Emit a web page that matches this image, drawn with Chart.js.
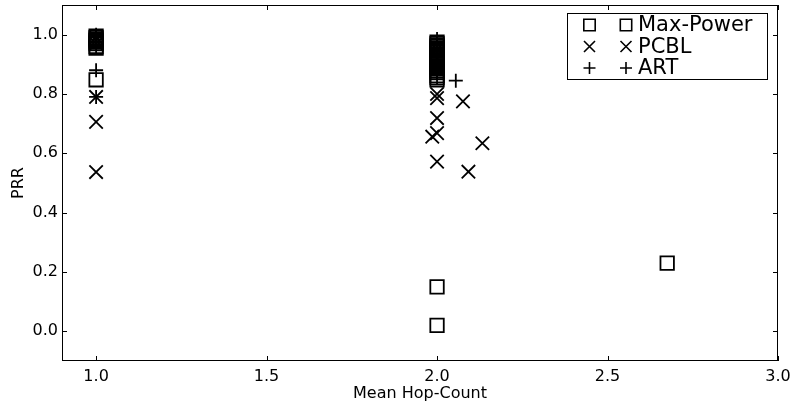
<!DOCTYPE html>
<html>
<head>
<meta charset="utf-8">
<script src="https://cdn.jsdelivr.net/npm/chart.js@4/dist/chart.umd.min.js"></script>
<style>
  html, body { margin: 0; padding: 0; background: #fff; }
</style>
</head>
<body>
<canvas id="chart" width="796" height="406"></canvas>
<script>
const xTicks = [1.0, 1.5, 2.0, 2.5, 3.0];
const yTicks = [0.0, 0.2, 0.4, 0.6, 0.8, 1.0];

// Max-Power (open squares)
const maxPowerX = [1.0, 1.0, 1.0, 1.0, 1.0, 1.0, 1.0, 1.0, 1.0,
                   2.0, 2.0, 2.0, 2.0, 2.0, 2.0, 2.0, 2.0, 2.0, 2.0, 2.0, 2.0, 2.0, 2.0, 2.0, 2.0, 2.0,
                   2.0, 2.0, 2.0, 2.0, 2.0, 2.0, 2.0,
                   2.675];
const maxPowerY = [0.995, 0.99, 0.985, 0.98, 0.975, 0.97, 0.96, 0.955, 0.848,
                   0.975, 0.97, 0.965, 0.96, 0.955, 0.95, 0.945, 0.94, 0.935, 0.93, 0.925, 0.92, 0.915, 0.91, 0.905, 0.9, 0.895,
                   0.89, 0.885, 0.878, 0.872, 0.862, 0.855, 0.848,
                   0.23];
const maxPowerX2 = [2.0, 2.0];
const maxPowerY2 = [0.15, 0.02];

// PCBL (x markers)
const pcblX = [1.0, 1.0, 1.0, 1.0, 1.0, 1.0,
               2.0, 2.0, 2.0, 2.0, 2.0, 2.0, 2.0, 1.986, 2.0, 2.076, 2.092, 2.133];
const pcblY = [0.99, 0.98, 0.97, 0.79, 0.706, 0.537,
               0.95, 0.92, 0.89, 0.786, 0.719, 0.668, 0.80, 0.656, 0.572, 0.775, 0.538, 0.634];

// ART (+ markers)
const artX = [1.0, 1.0, 1.0, 1.0, 1.0, 1.0,
              2.0, 2.0, 2.0, 2.0, 2.0, 2.0, 2.0, 2.0, 2.055];
const artY = [1.0, 0.99, 0.975, 0.96, 0.88, 0.79,
              0.985, 0.97, 0.95, 0.93, 0.91, 0.89, 0.87, 0.855, 0.845];

function toPoints(xs, ys) {
  return xs.map((x, i) => ({x: x, y: ys[i]}));
}

const tickLen = 5;
const font = 'DejaVu Sans';

function drawMarker(ctx, style, x, y, r) {
  ctx.beginPath();
  if (style === 'rect') {
    ctx.rect(x - r, y - r, 2 * r, 2 * r);
  } else if (style === 'crossRot') {
    ctx.moveTo(x - r, y - r); ctx.lineTo(x + r, y + r);
    ctx.moveTo(x + r, y - r); ctx.lineTo(x - r, y + r);
  } else {
    ctx.moveTo(x - r, y); ctx.lineTo(x + r, y);
    ctx.moveTo(x, y - r); ctx.lineTo(x, y + r);
  }
  ctx.stroke();
}

const framePlugin = {
  id: 'frame',
  afterDraw(chart) {
    const ctx = chart.ctx, a = chart.chartArea;
    const xs = chart.scales.x, ys = chart.scales.y;
    ctx.save();
    ctx.strokeStyle = '#000';
    ctx.lineWidth = 1;
    ctx.strokeRect(a.left + 0.5, a.top + 0.5, a.right - a.left - 1, a.bottom - a.top - 1);
    ctx.beginPath();
    xTicks.forEach(v => {
      const px = Math.round(xs.getPixelForValue(v)) + 0.5;
      ctx.moveTo(px, a.bottom); ctx.lineTo(px, a.bottom - tickLen);
      ctx.moveTo(px, a.top); ctx.lineTo(px, a.top + tickLen);
    });
    yTicks.forEach(v => {
      const py = Math.round(ys.getPixelForValue(v)) + 0.5;
      ctx.moveTo(a.left, py); ctx.lineTo(a.left + tickLen, py);
      ctx.moveTo(a.right, py); ctx.lineTo(a.right - tickLen, py);
    });
    ctx.stroke();

    // legend box
    const bx = 567, by = 13, bw = 200, bh = 66;
    ctx.fillStyle = '#fff';
    ctx.fillRect(bx, by, bw, bh);
    ctx.strokeRect(bx + 0.5, by + 0.5, bw, bh);
    const rowY = [25, 46.5, 68];
    const sizes = {rect: 5.7, crossRot: 5.5, cross: 6};
    ctx.lineWidth = 1.6;
    ctx.font = '21px "' + font + '"';
    ctx.textBaseline = 'middle';
    ctx.fillStyle = '#000';
    chart.data.datasets.forEach((ds, i) => {
      if (!ds.label) return;
      const y = rowY[i];
      drawMarker(ctx, ds.pointStyle, 589.5, y, sizes[ds.pointStyle]);
      drawMarker(ctx, ds.pointStyle, 626, y, sizes[ds.pointStyle]);
      ctx.fillText(ds.label, 638, y + 1);
    });
    ctx.restore();
  }
};

const maxPowerPoints = toPoints(maxPowerX, maxPowerY).concat(toPoints(maxPowerX2, maxPowerY2));

new Chart(document.getElementById('chart'), {
  type: 'scatter',
  data: {
    datasets: [{
      label: 'Max-Power',
      data: maxPowerPoints,
      pointStyle: 'rect',
      pointRadius: 9.5,
      borderColor: '#000',
      backgroundColor: 'rgba(0,0,0,0)',
      borderWidth: 1.8
    }, {
      label: 'PCBL',
      data: toPoints(pcblX, pcblY),
      pointStyle: 'crossRot',
      pointRadius: 9.5,
      borderColor: '#000',
      backgroundColor: 'rgba(0,0,0,0)',
      borderWidth: 1.8
    }, {
      label: 'ART',
      data: toPoints(artX, artY),
      pointStyle: 'cross',
      pointRadius: 7,
      borderColor: '#000',
      backgroundColor: 'rgba(0,0,0,0)',
      borderWidth: 1.8
    }]
  },
  options: {
    responsive: false,
    animation: false,
    layout: { autoPadding: false, padding: { top: 5, right: 18, left: 0, bottom: 0 } },
    plugins: { legend: { display: false }, tooltip: { enabled: false } },
    scales: {
      x: {
        type: 'linear',
        min: 0.9,
        max: 3.0,
        grid: { display: false, drawTicks: false },
        border: { display: false },
        afterFit: s => { s.height = 45; s.paddingLeft = 0; s.paddingRight = 0; },
        afterBuildTicks: s => { s.ticks = xTicks.map(v => ({value: v})); },
        ticks: {
          padding: 6,
          color: '#000',
          maxRotation: 0,
          font: { family: font, size: 16 },
          callback: v => v.toFixed(1)
        },
        title: {
          display: true,
          text: 'Mean Hop-Count',
          color: '#000',
          font: { family: font, size: 16 },
          padding: { top: 0, bottom: 3 }
        }
      },
      y: {
        type: 'linear',
        min: -0.1,
        max: 1.1,
        grid: { display: false, drawTicks: false },
        border: { display: false },
        afterFit: s => { s.width = 62; s.paddingTop = 0; s.paddingBottom = 0; },
        afterBuildTicks: s => { s.ticks = yTicks.map(v => ({value: v})); },
        ticks: {
          padding: 4,
          color: '#000',
          font: { family: font, size: 16 },
          callback: v => v.toFixed(1)
        },
        title: {
          display: true,
          text: 'PRR',
          color: '#000',
          font: { family: font, size: 16 },
          padding: { top: 9, bottom: 0 }
        }
      }
    }
  },
  plugins: [framePlugin]
});
</script>
</body>
</html>
